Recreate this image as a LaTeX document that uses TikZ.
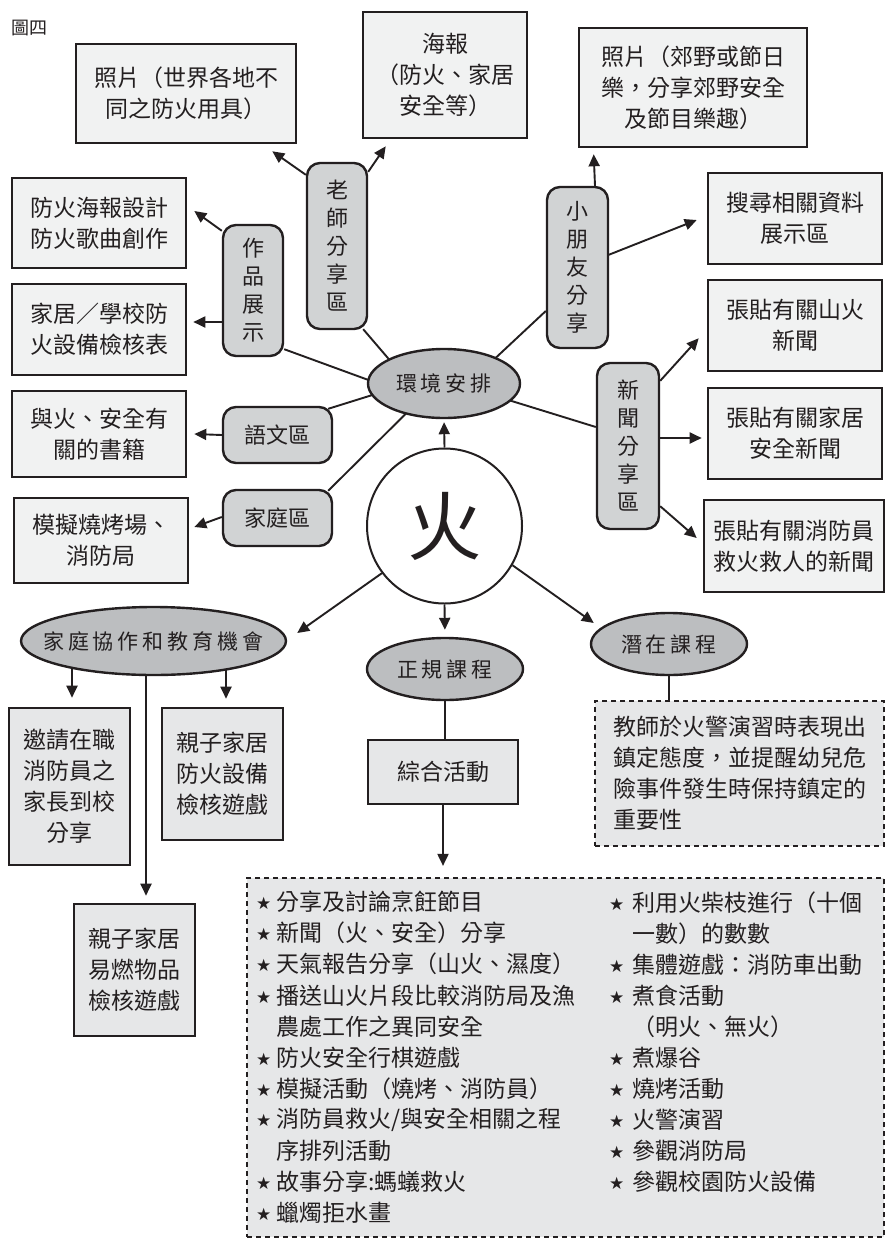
\documentclass[tikz,border=0pt]{standalone}
\usepackage{fontspec}
\setmainfont{Noto Sans CJK TC}
\newfontfamily\elf[LetterSpace=19]{Noto Sans CJK TC}
\newfontfamily\symf{DejaVu Sans}
\usetikzlibrary{shapes.geometric,arrows.meta,calc,backgrounds}
\definecolor{ink}{HTML}{231F20}
\definecolor{rectF}{HTML}{F1F2F2}
\definecolor{boxF}{HTML}{E6E7E8}
\definecolor{rndF}{HTML}{D1D3D4}
\definecolor{ellF}{HTML}{BCBEC0}
\newcommand{\bstarL}{\makebox[20pt][l]{\raisebox{1pt}{\symf\fontsize{17}{17}\selectfont\char"2605}}}
\newcommand{\bstarR}{\makebox[23pt][l]{\raisebox{1pt}{\symf\fontsize{17}{17}\selectfont\char"2605}}}
\newcommand{\bcontL}{\hspace*{20pt}}
\newcommand{\bcontR}{\hspace*{23pt}}
\begin{document}
\begin{tikzpicture}[x=1pt,y=-1pt,
  every node/.style={text=ink},
  rbox/.style={draw=ink,line width=2.6pt,fill=rectF,rectangle,align=center,inner sep=0pt,font=\fontsize{23}{31}\selectfont},
  dbox/.style={rbox,fill=boxF},
  rnd/.style={draw=ink,line width=2.4pt,fill=rndF,rectangle,rounded corners=13pt,align=center,inner sep=0pt,font=\fontsize{22}{28}\selectfont},
  ell/.style={draw=ink,line width=2.4pt,fill=ellF,ellipse,inner sep=0pt},
  elab/.style={inner sep=0pt,font=\elf\fontsize{21}{21}\selectfont},
  dsh/.style={draw=ink,line width=2.2pt,fill=boxF,dash pattern=on 5pt off 4pt,rectangle,inner sep=0pt},
  conn/.style={draw=ink,line width=1.9pt},
  arr/.style={conn,-{Triangle[length=12pt,width=11pt]}},
  itm/.style={anchor=west,inner sep=0pt,font=\fontsize{23}{23}\selectfont},
]
\useasboundingbox (0,0) rectangle (888,1239);

\node[inner sep=0pt,font=\fontsize{18}{18}\selectfont] (title) at (29,28) {圖四};

% rectangles
\node[rbox,minimum width=220pt,minimum height=99pt] (r1) at (186,93.5) {照片（世界各地不\\同之防火用具）};
\node[rbox,minimum width=164pt,minimum height=126pt] (r2) at (445,75) {海報\\（防火、家居\\安全等）};
\node[rbox,minimum width=228pt,minimum height=119pt] (r3) at (693,87.5) {照片（郊野或節日\\樂，分享郊野安全\\及節目樂趣）};
\node[rbox,minimum width=174pt,minimum height=91pt] (r4) at (795,218.5) {搜尋相關資料\\展示區};
\node[rbox,minimum width=174pt,minimum height=90pt] (r5) at (99,223) {防火海報設計\\防火歌曲創作};
\node[rbox,minimum width=174pt,minimum height=91pt] (r6) at (99,329.5) {家居／學校防\\火設備檢核表};
\node[rbox,minimum width=174pt,minimum height=86pt] (r7) at (99,434) {與火、安全有\\關的書籍};
\node[rbox,minimum width=174pt,minimum height=85pt] (r8) at (101,540.5) {模擬燒烤場、\\消防局};
\node[rbox,minimum width=174pt,minimum height=91pt] (r9) at (795,325.5) {張貼有關山火\\新聞};
\node[rbox,minimum width=174pt,minimum height=91pt] (r10) at (795,433.5) {張貼有關家居\\安全新聞};
\node[rbox,minimum width=180pt,minimum height=92pt] (r11) at (794,546) {張貼有關消防員\\救火救人的新聞};

% darker boxes
\node[dbox,minimum width=121pt,minimum height=157pt] (b1) at (69.5,786.5) {邀請在職\\消防員之\\家長到校\\分享};
\node[dbox,minimum width=121pt,minimum height=132pt] (b2) at (222.5,774) {親子家居\\防火設備\\檢核遊戲};
\node[dbox,minimum width=121pt,minimum height=132pt] (b3) at (134.5,970) {親子家居\\易燃物品\\檢核遊戲};
\node[dbox,minimum width=150pt,minimum height=64pt] (b4) at (443,772) {綜合活動};

% rounded boxes
\node[rnd,minimum width=60pt,minimum height=131pt] (g1) at (253,290.5) {作\\品\\展\\示};
\node[rnd,minimum width=60pt,minimum height=166pt] (g2) at (337,246) {老\\師\\分\\享\\區};
\node[rnd,minimum width=61pt,minimum height=161pt] (g3) at (577.5,267.5) {小\\朋\\友\\分\\享};
\node[rnd,minimum width=62pt,minimum height=166pt] (g4) at (628,446) {新\\聞\\分\\享\\區};
\node[rnd,minimum width=109pt,minimum height=56pt] (g5) at (277.5,435) {語文區};
\node[rnd,minimum width=109pt,minimum height=56pt] (g6) at (277.5,518) {家庭區};

% ellipses and circle
\node[ell,minimum width=152pt,minimum height=69pt] (e1) at (444,383.5) {};
\node[elab] (e1t) at (e1) {環境安排};
\node[ell,minimum width=265pt,minimum height=68pt] (e2) at (153.5,641) {};
\node[elab] (e2t) at (e2) {家庭協作和教育機會};
\node[ell,minimum width=156pt,minimum height=62pt] (e3) at (445,669) {};
\node[elab] (e3t) at (e3) {正規課程};
\node[ell,minimum width=156pt,minimum height=62pt] (e4) at (669,644) {};
\node[elab] (e4t) at (e4) {潛在課程};
\node[circle,draw=ink,line width=2pt,fill=white,minimum size=155pt,inner sep=0pt,font=\fontsize{75}{75}\selectfont] (c) at (444.5,526) {火};

% dashed boxes
\node[dsh,minimum width=289pt,minimum height=145pt,align=left,font=\fontsize{23}{31}\selectfont] (d1) at (739.5,773.5) {教師於火警演習時表現出\\鎮定態度，並提醒幼兒危\\險事件發生時保持鎮定的\\重要性};
\node[dsh,minimum width=637pt,minimum height=359pt] (d2) at (565.5,1057.5) {};

\foreach \itm [count=\i] in {\bstarL 分享及討論烹飪節目,\bstarL 新聞（火、安全）分享,\bstarL 天氣報告分享（山火、濕度）,\bstarL 播送山火片段比較消防局及漁,\bcontL 農處工作之異同安全,\bstarL 防火安全行棋遊戲,\bstarL 模擬活動（燒烤、消防員）,\bstarL 消防員救火/與安全相關之程,\bcontL 序排列活動,\bstarL 故事分享:螞蟻救火,\bstarL 蠟燭拒水畫}
  \node[itm] (L\i) at (256,{902+31.1*(\i-1)}) {\itm};
\foreach \itm [count=\i] in {\bstarR 利用火柴枝進行（十個,\bcontR 一數）的數數,\bstarR 集體遊戲：消防車出動,\bstarR 煮食活動,\bcontR （明火、無火）,\bstarR 煮爆谷,\bstarR 燒烤活動,\bstarR 火警演習,\bstarR 參觀消防局,\bstarR 參觀校園防火設備}
  \node[itm] (R\i) at (609,{903+31*(\i-1)}) {\itm};

\begin{pgfonlayer}{background}
\fill[white] (0,0) rectangle (888,1239);
% from the centre
\draw[arr,shorten >=3pt] (c.north) -- (e1.south);
\draw[arr,shorten >=7pt] (c.south) -- (e3.north);
\draw[arr] (c.217) -- ($(e2.east)+(10,-8)$);
\draw[arr] (c.-30) -- ($(e4.west)+(4,-21)$);
% environment to areas
\draw[conn] ($(g1.south east)+(0,-8)$) -- ($(e1.west)+(3,-3)$);
\draw[conn] ($(g2.south east)+(-5,-1)$) -- ($(e1.center)+(-54,-23)$);
\draw[conn] ($(g3.west)+(0,43.5)$) -- ($(e1.center)+(51,-25)$);
\draw[conn] ($(g4.west)+(0,-19)$) -- ($(e1.center)+(66,17)$);
\draw[conn] ($(g5.north east)+(-5,3)$) -- ($(e1.center)+(-70,11)$);
\draw[conn] ($(g6.north east)+(-5,2)$) -- ($(e1.center)+(-38,30)$);
% areas to contents
\draw[arr] ($(g1.north west)+(0,7)$) -- ($(r5.east)+(7,-12)$);
\draw[arr] ($(g1.west)+(0,31.5)$) -- ($(r6.east)+(6,-7.5)$);
\draw[arr] ($(g2.north west)+(0,13)$) -- ($(r1.south east)+(-25,7)$);
\draw[arr] ($(g2.north east)+(0,10)$) -- ($(r2.south west)+(24,7)$);
\draw[arr] ($(g3.north)+(17.5,0)$) -- ($(r3.south west)+(16,6)$);
\draw[arr] ($(g3.east)+(-6,-10.5)$) -- ($(r4.west)+(-10,1.5)$);
\draw[arr] ($(g4.north east)+(0,19)$) -- ($(r9.south west)+(-8,-34)$);
\draw[arr] ($(g4.east)+(0,-8)$) -- ($(r10.west)+(-5,4.5)$);
\draw[arr] ($(g4.south east)+(0,-24)$) -- ($(r11.west)+(-6,-8)$);
\draw[arr] (g5.west) -- ($(r7.east)+(7,0)$);
\draw[arr] ($(g6.west)+(0,-1)$) -- ($(r8.east)+(5,-13.5)$);
% bottom part
\coordinate (t1) at ($(b1.north)+(2.5,-9)$);
\coordinate (t2) at ($(b2.north)+(3.5,-8)$);
\coordinate (t3) at ($(b3.north)+(11.5,-7)$);
\draw[arr] (t1 |- e2.center) -- (t1);
\draw[arr] (t2 |- e2.center) -- (t2);
\draw[arr] (t3 |- e2.center) -- (t3);
\draw[conn] (e3.south) -- (e3.south |- b4.north);
\draw[arr,shorten >=11pt] (b4.south) -- (b4.south |- d2.north);
\draw[conn] (e4.south) -- (e4.south |- d1.north);
\end{pgfonlayer}
\end{tikzpicture}
\end{document}
